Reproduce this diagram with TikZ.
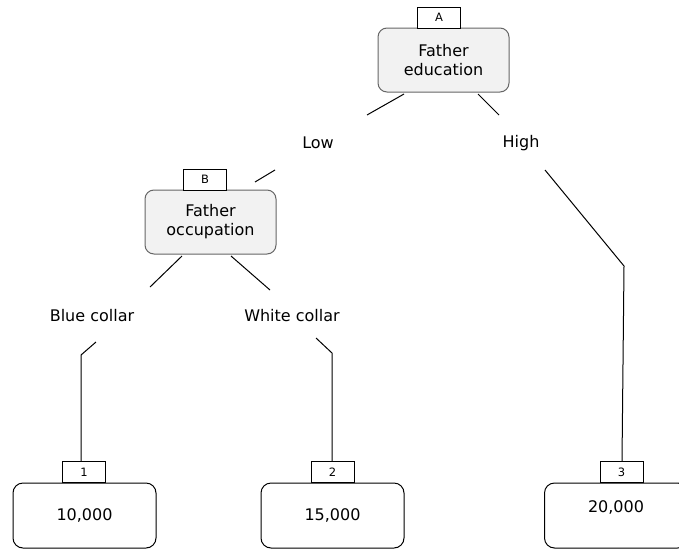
\documentclass[tikz,border=0pt]{standalone}
\usepackage{fontspec}
\setmainfont{DejaVu Sans}
\begin{document}
\begin{tikzpicture}[x=1pt,y=-1pt,
  decision/.style={draw=black!60,fill=black!5,rounded corners=9pt,line width=1pt,minimum width=131pt,minimum height=64pt,align=center,font=\fontsize{16}{19}\selectfont,inner sep=0pt},
  value/.style={draw=black,fill=white,rounded corners=10pt,line width=1pt,minimum width=143pt,minimum height=65pt,font=\fontsize{16}{19}\selectfont,inner sep=0pt},
  tag/.style={draw=black,fill=white,line width=1pt,minimum width=43pt,minimum height=21pt,font=\fontsize{11.5}{13}\selectfont,inner sep=0pt},
  branch/.style={font=\fontsize{16}{19}\selectfont,inner sep=0pt},
  conn/.style={draw=black,line width=1pt}]
\useasboundingbox (0,0) rectangle (679,549);
\clip (0,0) rectangle (679,549);
% decision nodes
\node[decision] (fe) at (443.5,60) {Father\\education};
\node[tag] (ta) at (439,17.5) {A};
\node[decision] (fo) at (210.5,222) {Father\\occupation};
\node[tag] (tb) at (205,179.5) {B};
% branch labels
\node[branch] (low) at (318,143) {Low};
\node[branch] (high) at (521,143) {High};
\node[branch] (blue) at (92,316) {Blue collar};
\node[branch] (white) at (292,316) {White collar};
% value nodes
\node[value] (v1) at (84.5,515.5) {10,000};
\node[value] (v2) at (332.5,515.5) {15,000};
\node[value, text depth=18pt] (v3) at (616,515.5) {20,000};
\node[tag] (t1) at (84,472) {1};
\node[tag] (t2) at (332.5,472) {2};
\node[tag] (t3) at (621.5,472) {3};
% connector coordinates
\coordinate (a1) at (404,94);
\coordinate (a2) at (367,115);
\coordinate (a3) at (478,94);
\coordinate (a4) at (499,115);
\coordinate (l1) at (275,170);
\coordinate (l2) at (255,182);
\coordinate (b1) at (182,256);
\coordinate (b2) at (150,287);
\coordinate (b3) at (231,256);
\coordinate (b4) at (270,290);
\coordinate (c1) at (96,342);
\coordinate (c2) at (81,355);
\coordinate (w1) at (316,338);
\coordinate (w2) at (332,353);
\coordinate (h1) at (545,170);
\coordinate (h2) at (624,266);
% connectors
\draw[conn] (a1) -- (a2);
\draw[conn] (a3) -- (a4);
\draw[conn] (l1) -- (l2);
\draw[conn] (b1) -- (b2);
\draw[conn] (b3) -- (b4);
\draw[conn] (c1) -- (c2) -- (c2 |- t1.north);
\draw[conn] (w1) -- (w2) -- (w2 |- t2.north);
\draw[conn] (h1) -- (h2) -- (622,461);
\end{tikzpicture}
\end{document}
